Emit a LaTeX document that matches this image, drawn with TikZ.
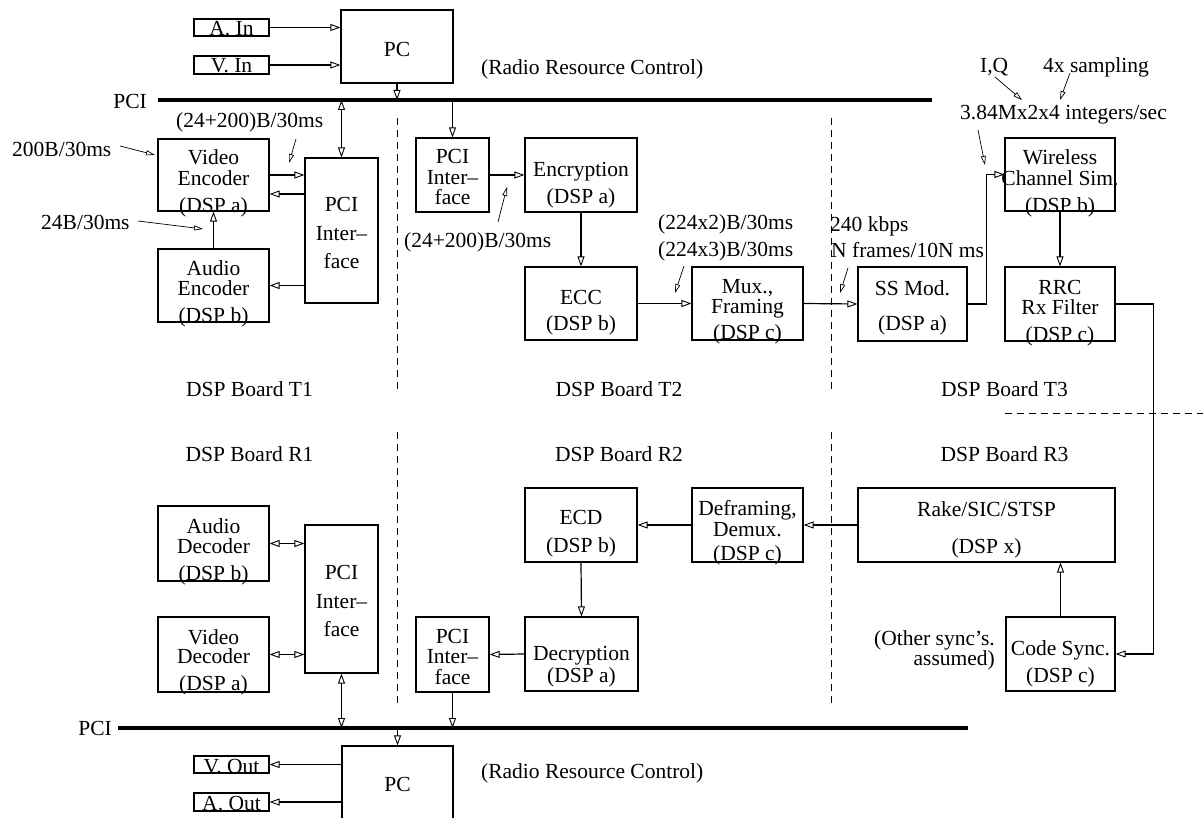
\documentclass[tikz,border=0pt]{standalone}
\usepackage{fontspec}
\setmainfont{Liberation Serif}
\usetikzlibrary{arrows.meta,calc}
\newcommand\boxtext[2]{\makebox[0pt]{\raisebox{#1}[0pt][0pt]{\begin{tabular}[t]{@{}c@{}}#2\end{tabular}}}}
\begin{document}
\begin{tikzpicture}[x=1pt,y=-1pt,
  every node/.style={font=\fontsize{21.5}{20}\selectfont},
  blk/.style={draw, line width=1.2pt, inner sep=0pt},
  io/.style={draw, line width=1.2pt, inner sep=0pt, minimum width=75pt},
  tip/.tip={Triangle[open,length=10pt,width=7pt,line width=0.9pt]},
  arr/.style={line width=1.2pt, -tip},
  darr/.style={line width=1.2pt, tip-tip},
  lead/.style={line width=0.7pt, -{Triangle[open,length=9pt,width=5pt,line width=0.7pt]}},
  bus/.style={line width=3.5pt},
  sep/.style={line width=1pt, dash pattern=on 7pt off 5pt},
  lbl/.style={inner sep=0pt, anchor=base west},
  brd/.style={inner sep=0pt, anchor=base}]
\fill[white] (0,0) rectangle (1203,818);
\useasboundingbox (0,0) rectangle (1203,818);

% separators
\draw[sep] (397,118) -- (397,393);
\draw[sep] (397,432) -- (397,707);
\draw[sep] (831,118) -- (831,393);
\draw[sep] (831,432) -- (831,707);
\draw[sep] (1005,414) -- (1203,414);

% buses
\coordinate (busTl) at (158,100);
\coordinate (busTr) at (932,100);
\coordinate (busBl) at (118,728);
\coordinate (busBr) at (968,728);
\draw[bus] (busTl) -- (busTr);
\draw[bus] (busBl) -- (busBr);
\node[inner sep=0pt, anchor=base east] (pcilT) at (147,109) {PCI};
\node[inner sep=0pt, anchor=base east] (pcilB) at (112,735) {PCI};

% top PC
\node[io, minimum height=17pt] (ain) at (231.5,27.5) {\boxtext{-8.5pt}{A. In}};
\node[io, minimum height=18pt] (vin) at (231.5,65) {\boxtext{-8pt}{V. In}};
\node[blk, minimum width=112pt, minimum height=73pt] (pct) at (397,46.5) {\boxtext{-10.5pt}{PC}};
\node[lbl] (rrcT) at (481,75) {(Radio Resource Control)};

% T1
\node[blk, minimum width=111pt, minimum height=72pt] (venc) at (213.5,175) {\boxtext{10pt}{Video\\Encoder\\[6pt](DSP a)}};
\node[blk, minimum width=111pt, minimum height=73pt] (aenc) at (213.5,285.5) {\boxtext{9.5pt}{Audio\\[-1pt]Encoder\\[6pt](DSP b)}};
\node[blk, minimum width=73pt, minimum height=145pt] (pci1) at (341.5,230.5) {\boxtext{18.5pt}{PCI\\[8pt]Inter–\\[7pt]face}};

% T2
\node[blk, minimum width=73pt, minimum height=74pt] (pci2) at (452.5,175) {\boxtext{11pt}{PCI\\Inter–\\[-1pt]face}};
\node[blk, minimum width=112pt, minimum height=74pt] (enc) at (581,175) {\boxtext{-2pt}{Encryption\\[6pt](DSP a)}};
\node[blk, minimum width=112pt, minimum height=73pt] (ecc) at (581,303.5) {\boxtext{-1.5pt}{ECC\\[5pt](DSP b)}};
\node[blk, minimum width=111pt, minimum height=73pt] (mux) at (747.5,303.5) {\boxtext{10pt}{Mux.,\\[0pt]Framing\\[5pt](DSP c)}};

% T3
\node[blk, minimum width=109pt, minimum height=74pt] (ssmod) at (912.5,304) {\boxtext{8pt}{SS Mod.\\[14pt](DSP a)}};
\node[blk, minimum width=110pt, minimum height=73pt] (wcs) at (1060,174.5) {\boxtext{9.5pt}{Wireless\\Channel Sim.\\[6pt](DSP b)}};
\node[blk, minimum width=110pt, minimum height=74pt] (rrc) at (1060,304) {\boxtext{9pt}{RRC\\[-1pt]Rx Filter\\[6pt](DSP c)}};

% R3
\node[blk, minimum width=257pt, minimum height=74pt] (rake) at (986.5,525) {\boxtext{9pt}{Rake/SIC/STSP\\[17pt](DSP x)}};
\node[blk, minimum width=109pt, minimum height=74pt] (csync) at (1060.5,654) {\boxtext{-1pt}{Code Sync.\\[7pt](DSP c)}};
\node[inner sep=0pt, anchor=base east] (oth) at (995,645) {\begin{tabular}[t]{@{}r@{}}(Other sync’s.\\[0pt]assumed)\end{tabular}};

% R2
\node[blk, minimum width=111pt, minimum height=74pt] (defr) at (747.5,525) {\boxtext{10pt}{Deframing,\\[1pt]Demux.\\[4pt](DSP c)}};
\node[blk, minimum width=112pt, minimum height=74pt] (ecd) at (581,525) {\boxtext{1pt}{ECD\\[8pt](DSP b)}};
\node[blk, minimum width=113pt, minimum height=74pt] (decr) at (581.5,654) {\boxtext{-6pt}{Decryption\\[2pt](DSP a)}};
\node[blk, minimum width=73pt, minimum height=75pt] (pci2r) at (452.5,654.5) {\boxtext{11pt}{PCI\\[0pt]Inter–\\[0pt]face}};

% R1
\node[blk, minimum width=111pt, minimum height=75pt] (adec) at (213.5,543.5) {\boxtext{10pt}{Audio\\[-1pt]Decoder\\[6pt](DSP b)}};
\node[blk, minimum width=111pt, minimum height=75pt] (vdec) at (213.5,654.5) {\boxtext{10.5pt}{Video\\[-1pt]Decoder\\[6pt](DSP a)}};
\node[blk, minimum width=73pt, minimum height=148pt] (pci1r) at (341.5,599) {\boxtext{20pt}{PCI\\[9pt]Inter–\\[7pt]face}};

% bottom PC
\node[blk, minimum width=111pt, minimum height=74pt] (pcb) at (397.5,783) {\boxtext{-8pt}{PC}};
\node[io, minimum height=17pt] (vout) at (231.5,764.5) {\boxtext{-8.5pt}{V. Out}};
\node[io, minimum height=18pt] (aout) at (231.5,802) {\boxtext{-8pt}{A. Out}};
\node[lbl] (rrcB) at (481,778) {(Radio Resource Control)};

% board labels
\node[brd] (bT1) at (249.5,396) {DSP Board T1};
\node[brd] (bT2) at (619,396) {DSP Board T2};
\node[brd] (bT3) at (1004.5,396) {DSP Board T3};
\node[brd] (bR1) at (249.5,461) {DSP Board R1};
\node[brd] (bR2) at (619,461) {DSP Board R2};
\node[brd] (bR3) at (1004.5,461) {DSP Board R3};

% rate labels
\node[lbl] (r1) at (176,128) {(24+200)B/30ms};
\node[lbl] (r200) at (12,157) {200B/30ms};
\node[lbl] (r24) at (41,230) {24B/30ms};
\node[lbl] (r2) at (404,248) {(24+200)B/30ms};
\node[lbl] (r224a) at (658,230) {(224x2)B/30ms};
\node[lbl] (r224b) at (658,257) {(224x3)B/30ms};
\node[lbl] (r240) at (830,232) {240 kbps};
\node[lbl] (rN) at (831,258) {N frames/10N ms};
\node[lbl] (rIQ) at (980,73) {I,Q};
\node[lbl] (r4x) at (1043,73) {4x sampling};
\node[lbl] (r384) at (960,120) {3.84Mx2x4 integers/sec};

% connectors
\draw[arr] (ain.east) -- (ain.east -| pct.west);
\draw[arr] (vin.east) -- (vin.east -| pct.west);
\draw[arr] (pct.south) -- (pct.south |- busTl);
\draw[darr] (pci1.north |- busTl) -- (pci1.north);
\draw[arr] (pci2.north |- busTl) -- (pci2.north);
\draw[arr] (venc.east) -- (venc.east -| pci1.west);
\draw[arr] (pci1.west |- 0,194) -- (venc.east |- 0,194);
\draw[arr] (pci1.west |- aenc.east) -- (aenc.east);
\draw[arr] (aenc.north) -- (venc.south);
\draw[arr] (pci2.east) -- (enc.west);
\draw[arr] (enc.south) -- (ecc.north);
\draw[arr] (ecc.east) -- (mux.west);
\draw[arr] (mux.east) -- (ssmod.west);
\draw[arr] (ssmod.east) -- ++(19,0) |- (wcs.west);
\draw[arr] (wcs.south) -- (rrc.north);
\draw[arr] (rrc.east) -- ++(38,0) |- (csync.east);
\draw[arr] (csync.north) -- (csync.north |- rake.south);
\draw[arr] (rake.west) -- (defr.east);
\draw[arr] (defr.west) -- (ecd.east);
\draw[arr] (ecd.south) -- (decr.north);
\draw[arr] (decr.west) -- (pci2r.east);
\draw[arr] (pci2r.south) -- (pci2r.south |- busBl);
\draw[darr] (pci1r.south) -- (pci1r.south |- busBl);
\draw[darr] (adec.east) -- (adec.east -| pci1r.west);
\draw[darr] (vdec.east) -- (vdec.east -| pci1r.west);
\draw[arr] (pcb.north |- busBl) -- (pcb.north);
\draw[arr] (pcb.west |- vout.east) -- (vout.east);
\draw[arr] (pcb.west |- aout.east) -- (aout.east);

% leaders
\coordinate (l1a) at (296,139); \coordinate (l1b) at (289,163);
\coordinate (l2a) at (120,146); \coordinate (l2b) at (155,155);
\coordinate (l3a) at (138,221); \coordinate (l3b) at (203,229);
\coordinate (l4a) at (498,222); \coordinate (l4b) at (507,187);
\coordinate (l5a) at (684,266); \coordinate (l5b) at (675,293);
\coordinate (l6a) at (848,268); \coordinate (l6b) at (840,293);
\coordinate (l7a) at (995,77);  \coordinate (l7b) at (1022,100);
\coordinate (l8a) at (1070,73); \coordinate (l8b) at (1060,100);
\coordinate (l9a) at (978,130); \coordinate (l9b) at (985,165);
\foreach \i in {1,...,9} {\draw[lead] (l\i a) -- (l\i b);}
\end{tikzpicture}
\end{document}
